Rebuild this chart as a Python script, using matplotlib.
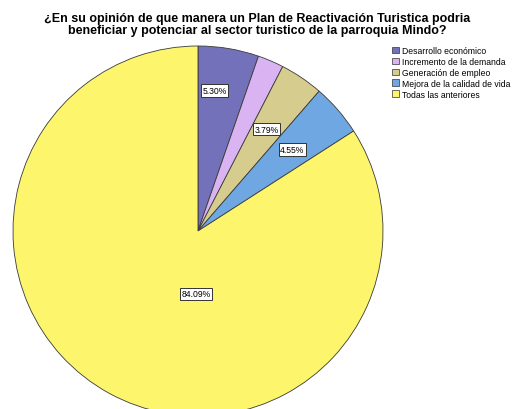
"""
Pie chart - Plan de Reactivacion Turistica, parroquia Mindo
"""

import matplotlib.pyplot as plt

# ── Data ─────────────────────────────────────────────────────────────────────
CATEGORIES = [
    "Desarrollo económico",
    "Incremento de la demanda",
    "Generación de empleo",
    "Mejora de la calidad de vida",
    "Todas las anteriores",
]
PERCENTS = [5.30, 2.27, 3.79, 4.55, 84.09]
SHOW_LABEL = [True, False, True, True, True]

TITLE_1 = "¿En su opinión de que manera un Plan de Reactivación Turistica podria"
TITLE_2 = "beneficiar y potenciar al sector turistico de la parroquia Mindo?"

COLORS = ["#7271b9", "#dab4f2", "#d6cc8e", "#6fa7e2", "#fdf56c"]
# label anchor points in pie units (radius = 1)
LABEL_POS = [(0.09, 0.76), None, (0.37, 0.55), (0.51, 0.44), (-0.01, -0.34)]

plt.rcParams["font.family"] = ["Liberation Sans", "DejaVu Sans"]

W, H = 515, 410
fig = plt.figure(figsize=(W / 100, H / 100), dpi=100)

# pie: centre ~ (198, 232) px, radius ~ 185 px
cx, cy, r = 198, 232, 185
ax = fig.add_axes([(cx - r) / W, (H - cy - r) / H, 2 * r / W, 2 * r / H])
wedges, _ = ax.pie(
    PERCENTS, colors=COLORS, startangle=90, counterclock=False,
    radius=1, wedgeprops=dict(edgecolor="#3a3a3a", linewidth=0.6),
)
ax.set_xlim(-1, 1)
ax.set_ylim(-1, 1)
for w in wedges:
    w.set_clip_on(False)

for pct, show, pos in zip(PERCENTS, SHOW_LABEL, LABEL_POS):
    if not show:
        continue
    ax.text(pos[0], pos[1], f"{pct:.2f}%", fontsize=6.2, ha="center", va="center",
            bbox=dict(boxstyle="square,pad=0.2", facecolor="white",
                      edgecolor="#333333", linewidth=0.7))

fig.text(257 / W, 1 - 19 / H, TITLE_1, fontsize=9.0, fontweight="bold",
         ha="center", va="center")
fig.text(257 / W, 1 - 31 / H, TITLE_2, fontsize=9.0, fontweight="bold",
         ha="center", va="center")

# legend
leg = fig.legend(wedges, CATEGORIES, loc="upper left",
                 bbox_to_anchor=(392 / W, 1 - 47 / H), frameon=False,
                 fontsize=6.2, handlelength=0.8, handleheight=0.8,
                 handletextpad=0.35, labelspacing=0.22, borderaxespad=0,
                 borderpad=0)
for h in leg.legend_handles:
    h.set_edgecolor("#333333")
    h.set_linewidth(0.5)

fig.savefig("out.png", dpi=100)
